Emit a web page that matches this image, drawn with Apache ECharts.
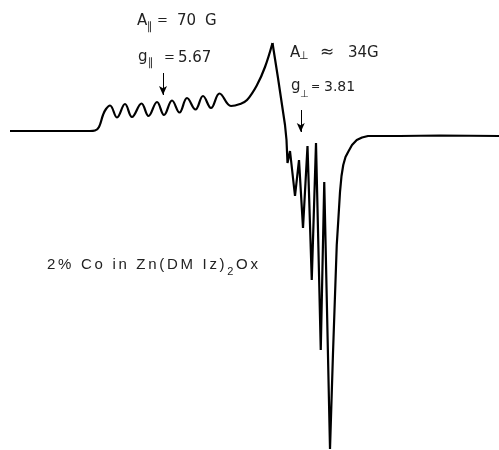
<!DOCTYPE html>
<html>
<head>
<meta charset="utf-8">
<script src="https://cdn.jsdelivr.net/npm/echarts@6/dist/echarts.min.js"></script>
<style>html,body{margin:0;padding:0;background:#fff}#c{width:499px;height:450px}</style>
</head>
<body>
<div id="c"></div>
<script>
// Magnetic field (G) and derivative signal (arb. units), parallel region + first part
const fieldA  = [560, 720, 880, 900, 916, 932, 944, 960, 988, 1020, 1048, 1086, 1114, 1148, 1176, 1208, 1238, 1268, 1302, 1332, 1364, 1398, 1444, 1480, 1508, 1548, 1580, 1610];
const signalA = [0, 0, 0, 0.5, 4, 16, 22, 25.5, 13.5, 27, 14, 27.5, 15, 29, 16, 30.5, 18.5, 33, 21.5, 35, 23, 37.5, 25, 27, 31, 46, 64, 88];
// Perpendicular region with hyperfine spikes and return to baseline
const fieldB  = [1610, 1632, 1660, 1666, 1670, 1680, 1700, 1716, 1732, 1750, 1767, 1784, 1803, 1817, 1840, 1852, 1867, 1872, 1880, 1886, 1893, 1902, 1913, 1928, 1947, 1968, 1992, 2120, 2280, 2516];
const signalB = [88, 53, 6, -9, -32, -20, -65, -29, -97, -15, -149, -12, -219, -51, -318, -222, -114, -94, -61, -45, -34, -26, -20.7, -14, -9, -6.5, -5, -5, -4.5, -5];
// g-value markers: [field, arrow top signal, arrow tip signal]
const gParallelArrow = [1172, 58, 36];
const gPerpArrow = [1723, 21, -1];
// Sample label pieces: [text, fontSize, vertical offset]
const sampleLabel = [['2% Co in Zn(DM Iz)', 15, 0], ['2', 11, 7], ['Ox', 15, 0]];

const zip = (xs, ys) => xs.map((x, i) => [x, ys[i]]);
const FONT = '"DejaVu Sans", sans-serif';
const FONT2 = '"Liberation Sans", sans-serif';
const INK = '#222';
function t(x, y, text, size, extra) {
  return {
    type: 'text', x: x, y: y, silent: true,
    style: Object.assign({ text: text, fontSize: size, fontFamily: FONT, fill: INK, verticalAlign: 'middle', align: 'left' }, extra || {})
  };
}
// lay out widely tracked lettering, one glyph per element
function tracked(pieces, x0, y, tracking) {
  const ctx = document.createElement('canvas').getContext('2d');
  const out = [];
  let x = x0;
  pieces.forEach(([txt, size, dy]) => {
    ctx.font = size + 'px ' + FONT2;
    for (const ch of txt) {
      if (ch !== ' ') out.push(t(x, y + dy, ch, size, { fontFamily: FONT2 }));
      x += ctx.measureText(ch).width + tracking;
    }
  });
  return out;
}
const chart = echarts.init(document.getElementById('c'), null, { renderer: 'canvas' });
const lineStyle = { color: '#000', width: 2.2 };
chart.setOption({
  animation: false,
  backgroundColor: '#fff',
  grid: { left: 0, right: 0, top: 0, bottom: 0 },
  xAxis: { type: 'value', min: 520, max: 2516, show: false },
  yAxis: { type: 'value', min: -319, max: 131, show: false },
  series: [
    { type: 'line', data: zip(fieldA, signalA), smooth: 0.4, showSymbol: false, lineStyle: lineStyle, silent: true,
      markLine: { silent: true, symbol: ['none', 'arrow'], symbolSize: [6, 9], label: { show: false },
        lineStyle: { color: '#000', width: 1, type: 'solid' },
        data: [
          [{ coord: [gParallelArrow[0], gParallelArrow[1]] }, { coord: [gParallelArrow[0], gParallelArrow[2]] }],
          [{ coord: [gPerpArrow[0], gPerpArrow[1]] }, { coord: [gPerpArrow[0], gPerpArrow[2]] }]
        ] } },
    { type: 'line', data: zip(fieldB, signalB), smooth: false, showSymbol: false, lineStyle: lineStyle, silent: true }
  ],
  graphic: [
    t(137, 21, 'A', 15), t(147, 27, '∥', 11, { fontStyle: 'italic' }), t(157, 21, '=', 13), t(177, 21, '70', 15), t(205, 21, 'G', 15),
    t(138, 57, 'g', 15), t(148, 63, '∥', 11, { fontStyle: 'italic' }), t(164, 58, '=', 13), t(178, 58, '5.67', 15),
    t(290, 53, 'A', 15), t(299, 56, '⊥', 11), t(320, 53, '≈', 17), t(348, 53, '34G', 15),
    t(291, 86, 'g', 15), t(300, 94, '⊥', 10), t(311, 87, '=', 11), t(324, 87, '3.81', 14)
  ].concat(tracked(sampleLabel, 47, 265, 2.7))
});
</script>
</body>
</html>
